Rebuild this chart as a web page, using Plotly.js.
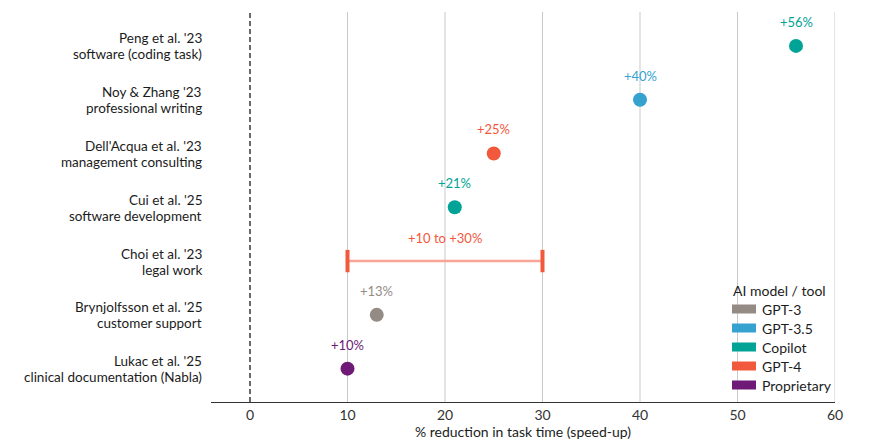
<!DOCTYPE html>
<html>
<head>
<meta charset="utf-8">
<script src="https://cdn.plot.ly/plotly-3.0.1.min.js"></script>
<style>
  html, body { margin: 0; padding: 0; background: #fff; }
  #chart { width: 873px; height: 444px; }
</style>
</head>
<body>
<div id="chart"></div>
<script>
// Studies, top to bottom: author line and task line
const studyAuthors = [
  "Peng et al. '23",
  "Noy & Zhang '23",
  "Dell'Acqua et al. '23",
  "Cui et al. '25",
  "Choi et al. '23",
  "Brynjolfsson et al. '25",
  "Lukac et al. '25"
];
const studyTasks = [
  "software (coding task)",
  "professional writing",
  "management consulting",
  "software development",
  "legal work",
  "customer support",
  "clinical documentation (Nabla)"
];
// Speed-up (% reduction in task time); range studies use low/high
const speedup = [56, 40, 25, 21, null, 13, 10];
const speedupLow = [null, null, null, null, 10, null, null];
const speedupHigh = [null, null, null, null, 30, null, null];
const studyModel = ["Copilot", "GPT-3.5", "GPT-4", "Copilot", "GPT-4", "GPT-3", "Proprietary"];

// Model legend
const models = ["GPT-3", "GPT-3.5", "Copilot", "GPT-4", "Proprietary"];
const modelColors = ["#948b85", "#36a2cf", "#00a396", "#f2583c", "#6e1a76"];
const rangeLineColor = "#f6a597";

const xTicks = [0, 10, 20, 30, 40, 50, 60];

const FONT = "Lato, 'Noto Sans', sans-serif";
const TEXT = "#1c1c1c";
const colorOf = m => modelColors[models.indexOf(m)];
const n = studyAuthors.length;
const rowY = studyAuthors.map((_, i) => n - 1 - i);

const plotL = 211, plotW = 624, plotT = 12, plotH = 390;
const px = x => (x - plotL) / plotW;
const py = y => (plotT + plotH - y) / plotH;

const traces = [];
const annotations = [];
const shapes = [];

// vertical gridlines (0 is drawn as a dashed reference line instead)
xTicks.filter(v => v !== 0).forEach(v => {
  shapes.push({
    type: "line", xref: "x", yref: "paper", x0: v, x1: v, y0: 0, y1: 1,
    line: { color: "#c9c9c9", width: 1 }, layer: "below"
  });
});
shapes.push({
  type: "line", xref: "x", yref: "paper", x0: 0, x1: 0, y0: 0, y1: 1,
  line: { color: "#3a3a3a", width: 1.5, dash: "5px,3px" }, layer: "below"
});

studyAuthors.forEach((s, i) => {
  const c = colorOf(studyModel[i]);
  // two-line row label, right aligned against the plot
  annotations.push({
    xref: "paper", yref: "y", x: px(203), y: rowY[i], xanchor: "right", yanchor: "middle",
    yshift: 7.5, text: studyAuthors[i], showarrow: false, borderpad: 0,
    font: { family: FONT, size: 13.5, color: TEXT }
  });
  annotations.push({
    xref: "paper", yref: "y", x: px(203), y: rowY[i], xanchor: "right", yanchor: "middle",
    yshift: -8.5, text: studyTasks[i], showarrow: false, borderpad: 0,
    font: { family: FONT, size: 13.5, color: TEXT }
  });

  if (speedup[i] !== null) {
    traces.push({
      type: "scatter", mode: "markers", x: [speedup[i]], y: [rowY[i]],
      marker: { size: 14, color: c }, showlegend: false, hoverinfo: "skip", cliponaxis: false
    });
    annotations.push({
      x: speedup[i], y: rowY[i], xref: "x", yref: "y", text: "+" + speedup[i] + "%",
      showarrow: false, yshift: 24, font: { family: FONT, size: 13, color: c }
    });
  } else {
    const lo = speedupLow[i], hi = speedupHigh[i];
    traces.push({
      type: "scatter", mode: "lines", x: [lo, hi], y: [rowY[i], rowY[i]],
      line: { color: rangeLineColor, width: 2.5 }, showlegend: false, hoverinfo: "skip"
    });
    traces.push({
      type: "scatter", mode: "markers", x: [lo, hi], y: [rowY[i], rowY[i]],
      marker: { symbol: "line-ns-open", size: 16, color: c, line: { width: 4, color: c } },
      showlegend: false, hoverinfo: "skip"
    });
    annotations.push({
      x: (lo + hi) / 2, y: rowY[i], xref: "x", yref: "y",
      text: "+" + lo + " to +" + hi + "%",
      showarrow: false, yshift: 23, font: { family: FONT, size: 13, color: c }
    });
  }
});

// legend block
annotations.push({
  xref: "paper", yref: "paper", x: px(731), y: py(290), xanchor: "left", yanchor: "middle",
  text: "AI model / tool", showarrow: false, font: { family: FONT, size: 14, color: TEXT }
});
models.forEach((m, k) => {
  const cy = 309 + k * 19;
  shapes.push({
    type: "rect", xref: "paper", yref: "paper",
    x0: px(732), x1: px(756), y0: py(cy + 4.5), y1: py(cy - 4.5),
    fillcolor: modelColors[k], line: { width: 0 }
  });
  annotations.push({
    xref: "paper", yref: "paper", x: px(760), y: py(cy), xanchor: "left", yanchor: "middle",
    text: m, showarrow: false, font: { family: FONT, size: 14, color: TEXT }
  });
});

const layout = {
  width: 873, height: 444,
  margin: { l: plotL, r: 873 - plotL - plotW, t: plotT, b: 444 - plotT - plotH },
  paper_bgcolor: "#fff", plot_bgcolor: "#fff",
  font: { family: FONT, size: 14, color: TEXT },
  showlegend: false,
  xaxis: {
    range: [-4, 60], tickvals: xTicks, showgrid: false, zeroline: false,
    showline: true, linecolor: "#333", linewidth: 1.2, ticks: "",
    tickfont: { family: FONT, size: 14, color: "#333" },
    title: { text: "% reduction in task time (speed-up)", font: { family: FONT, size: 14, color: TEXT }, standoff: 4 }
  },
  yaxis: {
    range: [-0.62, 6.63], showticklabels: false, showgrid: false, zeroline: false,
    showline: false, ticks: ""
  },
  shapes: shapes,
  annotations: annotations
};

Plotly.newPlot("chart", traces, layout, { displayModeBar: false, staticPlot: true });
</script>
</body>
</html>
